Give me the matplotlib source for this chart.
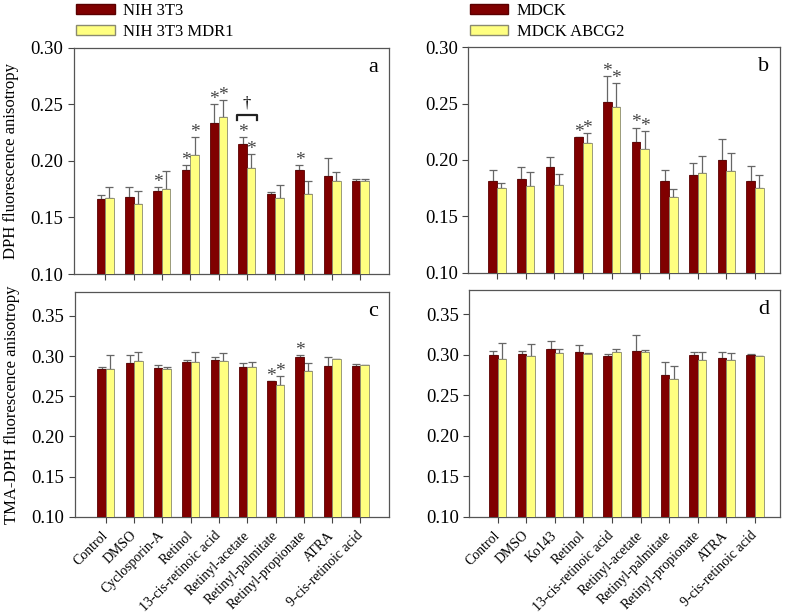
import numpy as np
import matplotlib
matplotlib.use("Agg")
import matplotlib.pyplot as plt
from matplotlib.patches import Patch

plt.rcParams['font.family'] = ['Liberation Serif', 'DejaVu Serif']

labels_left = ["Control", "DMSO", "Cyclosporin-A", "Retinol", "13-cis-retinoic acid",
               "Retinyl-acetate", "Retinyl-palmitate", "Retinyl-propionate", "ATRA",
               "9-cis-retinoic acid"]
labels_right = ["Control", "DMSO", "Ko143", "Retinol", "13-cis-retinoic acid",
                "Retinyl-acetate", "Retinyl-palmitate", "Retinyl-propionate", "ATRA",
                "9-cis-retinoic acid"]

# panel a - DPH, NIH 3T3 / NIH 3T3 MDR1
a_dark = [0.166, 0.168, 0.173, 0.192, 0.2335, 0.215, 0.1706, 0.192, 0.187, 0.1824]
a_dark_err = [0.004, 0.0085, 0.0035, 0.004, 0.0165, 0.006, 0.0015, 0.004, 0.016, 0.002]
a_yel = [0.1676, 0.1618, 0.175, 0.205, 0.2385, 0.194, 0.1668, 0.1706, 0.1824, 0.1824]
a_yel_err = [0.0092, 0.0112, 0.016, 0.016, 0.0153, 0.012, 0.0117, 0.012, 0.0076, 0.0016]
a_dark_star = [0, 0, 1, 1, 1, 1, 0, 1, 0, 0]
a_yel_star = [0, 0, 0, 1, 1, 1, 0, 0, 0, 0]

# panel b - DPH, MDCK / MDCK ABCG2
b_dark = [0.1815, 0.183, 0.194, 0.220, 0.251, 0.2156, 0.181, 0.1868, 0.200, 0.1818]
b_dark_err = [0.0095, 0.011, 0.0084, 0.0003, 0.0237, 0.0132, 0.010, 0.0108, 0.019, 0.0132]
b_yel = [0.175, 0.1765, 0.178, 0.2147, 0.2468, 0.210, 0.167, 0.1888, 0.190, 0.175]
b_yel_err = [0.005, 0.0125, 0.0096, 0.0088, 0.0212, 0.016, 0.0074, 0.0147, 0.016, 0.0118]
b_dark_star = [0, 0, 0, 1, 1, 1, 0, 0, 0, 0]
b_yel_star = [0, 0, 0, 1, 1, 1, 0, 0, 0, 0]

# panel c - TMA-DPH, NIH 3T3 / NIH 3T3 MDR1
c_dark = [0.2842, 0.2909, 0.2855, 0.293, 0.2946, 0.2859, 0.2684, 0.2992, 0.2875, 0.288]
c_dark_err = [0.0021, 0.0101, 0.0029, 0.002, 0.0042, 0.0058, 0.0004, 0.0018, 0.0117, 0.0024]
c_yel = [0.2834, 0.2938, 0.2842, 0.293, 0.2933, 0.2867, 0.2638, 0.281, 0.2963, 0.289]
c_yel_err = [0.0178, 0.0108, 0.0028, 0.012, 0.0107, 0.0058, 0.0112, 0.0103, 0.0, 0.0]
c_dark_star = [0, 0, 0, 0, 0, 0, 1, 1, 0, 0]
c_yel_star = [0, 0, 0, 0, 0, 0, 1, 0, 0, 0]

# panel d - TMA-DPH, MDCK / MDCK ABCG2
d_dark = [0.2996, 0.3008, 0.307, 0.3037, 0.2988, 0.305, 0.2753, 0.2996, 0.2955, 0.300]
d_dark_err = [0.0054, 0.0042, 0.010, 0.0087, 0.002, 0.019, 0.0157, 0.0033, 0.0085, 0.0012]
d_yel = [0.2946, 0.299, 0.302, 0.3012, 0.3033, 0.3037, 0.2695, 0.293, 0.293, 0.298]
d_yel_err = [0.0194, 0.0138, 0.0054, 0.0008, 0.0041, 0.0023, 0.0169, 0.0099, 0.0086, 0.0]
d_dark_star = [0] * 10
d_yel_star = [0] * 10

DARK = '#800000'
YEL = '#FFFF80'
GREY = '#666666'

fig = plt.figure(figsize=(7.87, 6.13), dpi=100)
ax_a = fig.add_axes([0.094, 0.553, 0.400, 0.369])
ax_b = fig.add_axes([0.595, 0.555, 0.396, 0.368])
ax_c = fig.add_axes([0.095, 0.157, 0.399, 0.367])
ax_d = fig.add_axes([0.596, 0.157, 0.395, 0.370])

x = np.arange(10)
w = 0.3


def draw(ax, dark, dark_err, yel, yel_err, dstar, ystar, ylim, yticks, letter, xlim, ystep):
    dark = np.array(dark)
    yel = np.array(yel)
    dark_err = np.array(dark_err)
    yel_err = np.array(yel_err)
    ax.bar(x - w / 2, dark, w, color=DARK, edgecolor='#5a0000', lw=0.6, zorder=3)
    ax.bar(x + w / 2, yel, w, color=YEL, edgecolor='#8a8a70', lw=0.6, zorder=3)
    ax.errorbar(x - w / 2, dark, yerr=[np.zeros(10), dark_err], fmt='none',
                ecolor=GREY, elinewidth=0.9, capsize=3, capthick=0.9, zorder=2)
    ax.errorbar(x + w / 2, yel, yerr=[np.zeros(10), yel_err], fmt='none',
                ecolor=GREY, elinewidth=0.9, capsize=3, capthick=0.9, zorder=2)
    for i in range(10):
        if dstar[i]:
            ax.text(x[i] - w / 2, dark[i] + dark_err[i] + ystep, '*', ha='center',
                    va='bottom', fontsize=14, color='#444444')
        if ystar[i]:
            ax.text(x[i] + w / 2, yel[i] + yel_err[i] + ystep, '*', ha='center',
                    va='bottom', fontsize=14, color='#444444')
    ax.set_ylim(*ylim)
    ax.set_xlim(*xlim)
    ax.set_yticks(yticks)
    ax.set_yticklabels(['%.2f' % t for t in yticks], fontsize=13.5)
    ax.set_xticks(x)
    ax.tick_params(axis='both', direction='out', length=4, color='#444444')
    for s in ax.spines.values():
        s.set_color('#555555')
        s.set_linewidth(0.9)
    ax.text(0.965, 0.955, letter, transform=ax.transAxes, ha='right', va='top', fontsize=16)


draw(ax_a, a_dark, a_dark_err, a_yel, a_yel_err, a_dark_star, a_yel_star,
     (0.10, 0.30), [0.10, 0.15, 0.20, 0.25, 0.30], 'a', (-1.1, 10.0), -0.0035)
draw(ax_b, b_dark, b_dark_err, b_yel, b_yel_err, b_dark_star, b_yel_star,
     (0.10, 0.30), [0.10, 0.15, 0.20, 0.25, 0.30], 'b', (-1.0, 9.87), -0.0035)
draw(ax_c, c_dark, c_dark_err, c_yel, c_yel_err, c_dark_star, c_yel_star,
     (0.10, 0.38), [0.10, 0.15, 0.20, 0.25, 0.30, 0.35], 'c', (-1.1, 10.0), -0.005)
draw(ax_d, d_dark, d_dark_err, d_yel, d_yel_err, d_dark_star, d_yel_star,
     (0.10, 0.38), [0.10, 0.15, 0.20, 0.25, 0.30, 0.35], 'd', (-1.0, 9.87), -0.005)

# bracket with dagger over retinyl-acetate in panel a
k = 5
top = max(a_dark[k] + a_dark_err[k], a_yel[k] + a_yel_err[k]) + 0.020
ax_a.plot([x[k] - 0.36, x[k] - 0.36, x[k] + 0.36, x[k] + 0.36],
          [top - 0.0045, top, top, top - 0.0045], color='#222222', lw=1.6)
ax_a.text(x[k], top + 0.003, '\u2020', ha='center', va='bottom', fontsize=12)

ax_a.set_xticklabels([])
ax_b.set_xticklabels([])
for ax, labs in [(ax_c, labels_left), (ax_d, labels_right)]:
    ax.set_xticklabels(labs, rotation=45, ha='right', va='center',
                       rotation_mode='anchor', fontsize=10)
    ax.tick_params(axis='x', pad=8)

ax_a.set_ylabel('DPH fluorescence anisotropy', fontsize=12)
ax_c.set_ylabel('TMA-DPH fluorescence anisotropy', fontsize=12)
ax_a.yaxis.set_label_coords(-0.175, 0.5)
ax_c.yaxis.set_label_coords(-0.175, 0.5)

# legends above the top panels
h1 = [Patch(facecolor=DARK, edgecolor='#5a0000'), Patch(facecolor=YEL, edgecolor='#8a8a70')]
for lab, xa in [(['NIH 3T3', 'NIH 3T3 MDR1'], 0.078), (['MDCK', 'MDCK ABCG2'], 0.578)]:
    fig.legend(h1, lab, loc='upper left', bbox_to_anchor=(xa, 1.02),
               frameon=False, fontsize=12, handlelength=2.3, handleheight=0.5,
               labelspacing=0.3, handletextpad=0.5)

fig.savefig('out.png', dpi=100)
